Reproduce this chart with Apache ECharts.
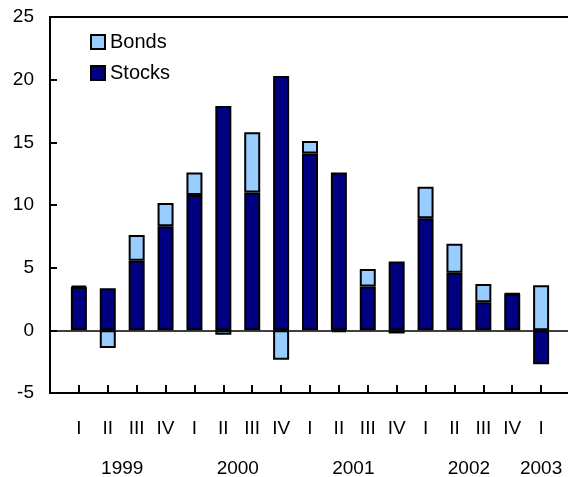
<!DOCTYPE html>
<html>
<head>
<meta charset="utf-8">
<script src="https://cdn.jsdelivr.net/npm/echarts@6/dist/echarts.min.js"></script>
<style>
  html, body { margin: 0; padding: 0; background: #fff; }
  #chart { width: 568px; height: 477px; }
</style>
</head>
<body>
<div id="chart"></div>
<script>
// Quarterly net flows, split into stocks and bonds
const quarters = ['I', 'II', 'III', 'IV', 'I', 'II', 'III', 'IV', 'I', 'II', 'III', 'IV', 'I', 'II', 'III', 'IV', 'I'];
const years    = ['1999', '1999', '1999', '1999', '2000', '2000', '2000', '2000',
                  '2001', '2001', '2001', '2001', '2002', '2002', '2002', '2002', '2003'];
const stocks = [3.45, 3.35, 5.55, 8.3, 10.8, 17.9, 11.0, 20.3, 14.1, 12.6, 3.5, 5.5, 8.95, 4.6, 2.25, 2.9, -2.7];
const bonds  = [0.1, -1.4, 2.05, 1.85, 1.8, -0.35, 4.8, -2.35, 1.0, -0.15, 1.4, -0.25, 2.5, 2.3, 1.45, 0.05, 3.6];
const yTicks = [-5, 0, 5, 10, 15, 20, 25];

// Category axis carries an empty slot at each end so the bars sit one full step in from the frame
const cats = [''].concat(quarters, ['']);
const pad = arr => [null].concat(arr, [null]);

// Centre of each year's run of quarters, in quarter-index units
const yearIdx = {};
years.forEach((y, i) => {
  if (!yearIdx[y]) yearIdx[y] = [];
  yearIdx[y].push(i);
});
const yearAt = {};
Object.keys(yearIdx).forEach(y => {
  const idx = yearIdx[y];
  const c = idx.reduce((a, b) => a + b, 0) / idx.length;
  yearAt[c.toFixed(1)] = y;
});

const FONT = 'Liberation Sans, Arial, sans-serif';
const chart = echarts.init(document.getElementById('chart'), null, { renderer: 'canvas' });

chart.setOption({
  animation: false,
  backgroundColor: '#fff',
  textStyle: { fontFamily: FONT, color: '#000' },
  grid: {
    left: 50, right: -2, top: 17, bottom: 84,
    outerBoundsMode: 'none',
    containLabel: false,
    show: true, borderColor: '#000', borderWidth: 2, backgroundColor: 'transparent'
  },
  legend: {
    orient: 'vertical',
    left: 90, top: 32,
    padding: 0,
    itemWidth: 14, itemHeight: 14, itemGap: 11,
    data: ['Bonds', 'Stocks'],
    icon: 'rect',
    itemStyle: { borderColor: '#000', borderWidth: 2 },
    textStyle: { fontFamily: FONT, fontSize: 20, color: '#000', padding: [0, 0, 0, 0] }
  },
  xAxis: [
    {
      type: 'category',
      data: cats,
      boundaryGap: false,
      position: 'bottom',
      axisLine: { onZero: false, lineStyle: { color: '#000', width: 2 } },
      axisTick: {
        inside: true, length: 8, lineStyle: { color: '#000', width: 2 },
        interval: (i) => i > 0 && i < cats.length - 1
      },
      axisLabel: {
        interval: 0, margin: 26,
        fontFamily: FONT, fontSize: 19, color: '#000'
      },
      splitLine: { show: false }
    },
    {
      type: 'value',
      min: -1, max: quarters.length,
      interval: 0.5,
      position: 'bottom',
      axisLine: { show: false, onZero: false },
      axisTick: { show: false },
      splitLine: { show: false },
      axisLabel: {
        margin: 66,
        fontFamily: FONT, fontSize: 19, color: '#000',
        showMinLabel: true, showMaxLabel: true,
        formatter: (v) => yearAt[v.toFixed(1)] || ''
      }
    }
  ],
  yAxis: {
    type: 'value',
    min: yTicks[0], max: yTicks[yTicks.length - 1], interval: 5,
    axisLine: { show: true, onZero: false, lineStyle: { color: '#000', width: 2 } },
    axisTick: { show: true, inside: true, length: 7, lineStyle: { color: '#000', width: 2 } },
    axisLabel: { margin: 16, fontFamily: FONT, fontSize: 19, color: '#000' },
    splitLine: { show: false }
  },
  series: [
    {
      name: 'Stocks',
      type: 'bar',
      stack: 'flows',
      xAxisIndex: 0,
      data: pad(stocks),
      barWidth: 16,
      itemStyle: { color: '#000080', borderColor: '#000', borderWidth: 2 },
      markLine: {
        silent: true,
        symbol: 'none',
        label: { show: false },
        lineStyle: { color: '#000', width: 1.5, type: 'solid' },
        data: [{ yAxis: 0 }]
      }
    },
    {
      name: 'Bonds',
      type: 'bar',
      stack: 'flows',
      xAxisIndex: 0,
      data: pad(bonds),
      barWidth: 16,
      itemStyle: { color: '#99CCFF', borderColor: '#000', borderWidth: 2 }
    }
  ]
});
</script>
</body>
</html>
